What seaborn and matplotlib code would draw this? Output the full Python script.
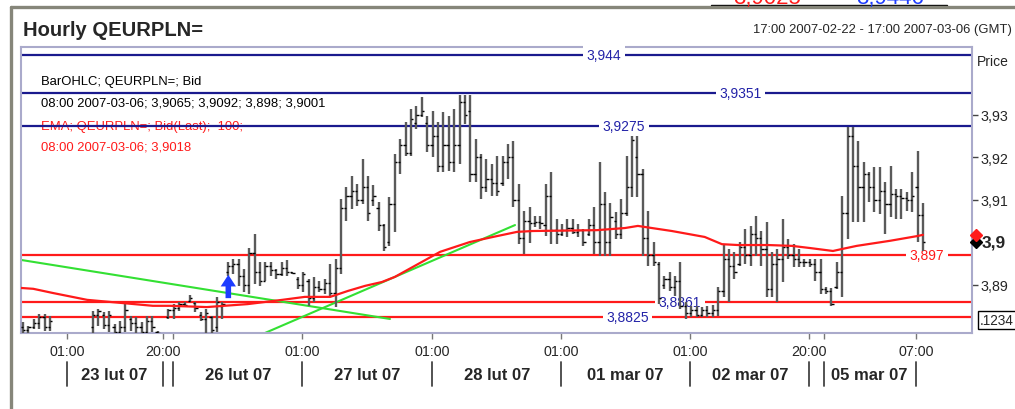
import matplotlib
matplotlib.use('Agg')
import matplotlib.pyplot as plt
from matplotlib.lines import Line2D
import pandas as pd
import seaborn as sns

sns.set_style('white')
plt.rcParams['font.family'] = ['Liberation Sans', 'DejaVu Sans']

# hourly OHLC bars, x = hour slot on the compressed time axis
bar_hour = [0, 1, 2, 3, 4, 5] + list(range(13, 26)) + list(range(27, 168))
bar_open = [
    3.8800, 3.8795, 3.8800, 3.8810, 3.8825, 3.8800,
    3.8800, 3.8830, 3.8830, 3.8805, 3.8800, 3.8790, 3.8800, 3.8820, 3.8810, 3.8800, 3.8790, 3.8815, 3.8790,
    3.8825, 3.8840, 3.8845, 3.8855, 3.8862, 3.8858, 3.8830, 3.8820, 3.8825, 3.8800, 3.8850,
    3.8930, 3.8945, 3.8950, 3.8920, 3.8900, 3.8975, 3.8930, 3.8910, 3.8945, 3.8935, 3.8925, 3.8940,
    3.8930, 3.8915, 3.8900, 3.8910, 3.8870, 3.8895, 3.8890, 3.8905, 3.8880, 3.8940,
    3.9080, 3.9110, 3.9120, 3.9100, 3.9130, 3.9100, 3.9080, 3.9040, 3.9000, 3.9090,
    3.9190, 3.9230, 3.9210, 3.9280, 3.9300, 3.9280, 3.9230, 3.9250, 3.9180, 3.9230,
    3.9190, 3.9230, 3.9330, 3.9310, 3.9160, 3.9200, 3.9130, 3.9150, 3.9140, 3.9140,
    3.9190, 3.9200, 3.9100, 3.9010, 3.9050, 3.9045, 3.9048, 3.9040, 3.9110, 3.9030,
    3.9020, 3.9030, 3.9035, 3.9025, 3.9030, 3.9020, 3.9040, 3.9000, 3.9090, 3.9000,
    3.9050, 3.9020, 3.9070, 3.9130, 3.9200, 3.9160, 3.9010, 3.8970, 3.8950, 3.8900,
    3.8915, 3.8895, 3.8910, 3.8850, 3.8835, 3.8840, 3.8830, 3.8840, 3.8835, 3.8840,
    3.8885, 3.8960, 3.8945, 3.8950, 3.8990, 3.8970, 3.9020, 3.9010, 3.8985, 3.8890,
    3.8950, 3.8960, 3.8990, 3.8970, 3.8960, 3.8955, 3.8955, 3.8950, 3.8930, 3.8890,
    3.8885, 3.8895, 3.8930, 3.9070, 3.9250, 3.9180, 3.9130, 3.9160, 3.9130, 3.9100,
    3.9120, 3.9090, 3.9115, 3.9110, 3.9105, 3.9100, 3.9130, 3.9065]
bar_high = [
    3.8813, 3.8804, 3.8820, 3.8832, 3.8832, 3.8827,
    3.8839, 3.8844, 3.8836, 3.8839, 3.8808, 3.8815, 3.8855, 3.8827, 3.8825, 3.8813, 3.8827, 3.8827, 3.8792,
    3.8844, 3.8855, 3.8860, 3.8860, 3.8876, 3.8860, 3.8836, 3.8844, 3.8827, 3.8872, 3.8860,
    3.8954, 3.8961, 3.8961, 3.8938, 3.8987, 3.9020, 3.8954, 3.8954, 3.8954, 3.8938, 3.8954, 3.8959,
    3.8931, 3.8919, 3.8931, 3.8914, 3.8919, 3.8909, 3.8914, 3.8949, 3.8961, 3.9102,
    3.9131, 3.9156, 3.9138, 3.9196, 3.9156, 3.9135, 3.9095, 3.9044, 3.9107, 3.9208,
    3.9244, 3.9284, 3.9314, 3.9321, 3.9342, 3.9298, 3.9309, 3.9284, 3.9307, 3.9298,
    3.9314, 3.9347, 3.9347, 3.9347, 3.9244, 3.9208, 3.9196, 3.9185, 3.9204, 3.9204,
    3.9232, 3.9239, 3.9138, 3.9074, 3.9084, 3.9062, 3.9062, 3.9138, 3.9166, 3.9055,
    3.9044, 3.9055, 3.9055, 3.9044, 3.9032, 3.9055, 3.9084, 3.9189, 3.9119, 3.9093,
    3.9072, 3.9102, 3.9204, 3.9251, 3.9251, 3.9173, 3.9074, 3.9001, 3.8954, 3.8921,
    3.8931, 3.8921, 3.8954, 3.8860, 3.8851, 3.8851, 3.8848, 3.8851, 3.8853, 3.8895,
    3.8996, 3.8985, 3.8978, 3.9001, 3.9032, 3.9039, 3.9062, 3.9027, 3.9048, 3.8978,
    3.8985, 3.9055, 3.9008, 3.8996, 3.8985, 3.8961, 3.8961, 3.8961, 3.8961, 3.8895,
    3.8893, 3.8954, 3.9109, 3.9272, 3.9272, 3.9239, 3.9189, 3.9166, 3.9178, 3.9178,
    3.9142, 3.9180, 3.9126, 3.9126, 3.9119, 3.9166, 3.9215, 3.9092]
bar_low = [
    3.8780, 3.8780, 3.8797, 3.8797, 3.8792, 3.8792,
    3.8780, 3.8804, 3.8797, 3.8790, 3.8780, 3.8780, 3.8790, 3.8792, 3.8780, 3.8780, 3.8780, 3.8790, 3.8780,
    3.8820, 3.8820, 3.8839, 3.8848, 3.8860, 3.8836, 3.8815, 3.8780, 3.8780, 3.8790, 3.8820,
    3.8921, 3.8926, 3.8898, 3.8884, 3.8879, 3.8902, 3.8898, 3.8909, 3.8921, 3.8914, 3.8921, 3.8921,
    3.8926, 3.8891, 3.8884, 3.8851, 3.8860, 3.8884, 3.8879, 3.8872, 3.8848, 3.8926,
    3.9051, 3.9079, 3.9086, 3.9091, 3.9051, 3.9086, 3.9027, 3.8980, 3.8992, 3.9025,
    3.9161, 3.9204, 3.9204, 3.9267, 3.9295, 3.9213, 3.9201, 3.9166, 3.9166, 3.9168,
    3.9166, 3.9185, 3.9279, 3.9142, 3.9142, 3.9102, 3.9119, 3.9109, 3.9109, 3.9133,
    3.9149, 3.9084, 3.8996, 3.8973, 3.8999, 3.9036, 3.9032, 3.9015, 3.8996, 3.8996,
    3.9015, 3.9013, 3.9020, 3.9013, 3.8992, 3.9015, 3.8973, 3.8968, 3.8968, 3.8968,
    3.9008, 3.9008, 3.9062, 3.9107, 3.9107, 3.8968, 3.8945, 3.8945, 3.8855, 3.8891,
    3.8886, 3.8874, 3.8844, 3.8820, 3.8825, 3.8825, 3.8825, 3.8825, 3.8825, 3.8827,
    3.8872, 3.8860, 3.8914, 3.8945, 3.8949, 3.8945, 3.8968, 3.8945, 3.8872, 3.8872,
    3.8860, 3.8907, 3.8961, 3.8942, 3.8942, 3.8942, 3.8942, 3.8909, 3.8879, 3.8879,
    3.8851, 3.8891, 3.8872, 3.9008, 3.9048, 3.9048, 3.9048, 3.9095, 3.9072, 3.9067,
    3.9020, 3.9060, 3.9055, 3.9055, 3.9074, 3.9072, 3.9001, 3.8980]
bar_close = [
    3.8795, 3.8800, 3.8810, 3.8825, 3.8800, 3.8815,
    3.8830, 3.8838, 3.8805, 3.8830, 3.8790, 3.8800, 3.8840, 3.8810, 3.8800, 3.8790, 3.8815, 3.8800, 3.8788,
    3.8840, 3.8845, 3.8855, 3.8852, 3.8870, 3.8845, 3.8820, 3.8835, 3.8795, 3.8860, 3.8855,
    3.8945, 3.8950, 3.8920, 3.8900, 3.8975, 3.8930, 3.8910, 3.8945, 3.8935, 3.8925, 3.8940, 3.8930,
    3.8928, 3.8900, 3.8925, 3.8870, 3.8895, 3.8890, 3.8905, 3.8880, 3.8940, 3.9080,
    3.9110, 3.9120, 3.9100, 3.9130, 3.9070, 3.9110, 3.9040, 3.8990, 3.9090, 3.9190,
    3.9230, 3.9210, 3.9290, 3.9300, 3.9310, 3.9230, 3.9250, 3.9180, 3.9230, 3.9190,
    3.9230, 3.9330, 3.9300, 3.9160, 3.9200, 3.9130, 3.9150, 3.9140, 3.9120, 3.9190,
    3.9200, 3.9100, 3.9010, 3.9050, 3.9045, 3.9048, 3.9045, 3.9110, 3.9030, 3.9020,
    3.9030, 3.9035, 3.9025, 3.9030, 3.9000, 3.9040, 3.9000, 3.9090, 3.9000, 3.9060,
    3.9020, 3.9070, 3.9130, 3.9240, 3.9160, 3.9010, 3.8970, 3.8955, 3.8870, 3.8915,
    3.8895, 3.8910, 3.8850, 3.8835, 3.8840, 3.8830, 3.8840, 3.8835, 3.8840, 3.8885,
    3.8960, 3.8945, 3.8930, 3.8990, 3.8970, 3.9020, 3.9010, 3.8985, 3.8890, 3.8950,
    3.8960, 3.8990, 3.8970, 3.8960, 3.8955, 3.8955, 3.8950, 3.8930, 3.8890, 3.8885,
    3.8855, 3.8930, 3.9070, 3.9250, 3.9180, 3.9130, 3.9160, 3.9130, 3.9100, 3.9120,
    3.9090, 3.9115, 3.9110, 3.9105, 3.9100, 3.9110, 3.9065, 3.9001]

# EMA(100)
ema_hour = [-0.4, 1.9, 5.6, 11.9, 18.0, 24.1, 27.3, 34.1, 41.7, 48.1, 52.3, 57.0, 60.3,
            63.5, 66.6, 69.0, 72.7, 77.4, 82.9, 87.2, 91.7, 94.6, 106.5, 111.7, 114.1,
            116.7, 120.4, 126.5, 129.7, 132.7, 138.2, 142.7, 146.0, 150.3, 152.1, 154.7,
            160.9, 165.9, 167.0]
ema_value = [3.8893, 3.8891, 3.8881, 3.8865, 3.8858, 3.8851, 3.8851, 3.8848, 3.8855,
             3.8865, 3.8872, 3.8872, 3.8886, 3.8898, 3.8907, 3.8919, 3.8945, 3.8978,
             3.9001, 3.9013, 3.9025, 3.9027, 3.9029, 3.9034, 3.9039, 3.9034, 3.9027,
             3.9013, 3.8996, 3.8994, 3.8994, 3.8992, 3.8987, 3.8980, 3.8985, 3.8992,
             3.9004, 3.9015, 3.9018]

# green trend lines
trend1_hour = [-0.4, 68.1]
trend1_value = [3.8959, 3.8820]
trend2_hour = [44.9, 91.3]
trend2_value = [3.8787, 3.9041]

# horizontal levels
level_value = [3.944, 3.9351, 3.9275, 3.897, 3.8861, 3.8825]
level_text = ['3,944', '3,9351', '3,9275', '3,897', '3,8861', '3,8825']
level_label_hour = [107.8, 133.2, 111.5, 167.7, 121.9, 112.2]
level_kind = ['blue', 'blue', 'blue', 'red', 'red', 'red']

# time axis
tick_hour = [8.16, 25.97, 27.83, 51.76, 75.88, 99.81, 123.75, 145.83, 148.6, 165.68]
tick_text = ['01:00', '20:00', '', '01:00', '01:00', '01:00', '01:00', '20:00', '', '07:00']
day_hour = [16.9, 39.9, 63.8, 87.9, 111.7, 134.9, 157.0]
day_text = ['23 lut 07', '26 lut 07', '27 lut 07', '28 lut 07', '01 mar 07', '02 mar 07', '05 mar 07']

price_ticks = [3.89, 3.90, 3.91, 3.92, 3.93]
price_text = ['3,89', '', '3,91', '3,92', '3,93']

bars = pd.DataFrame({'hour': bar_hour, 'open': bar_open, 'high': bar_high,
                     'low': bar_low, 'close': bar_close})
ema = pd.DataFrame({'hour': ema_hour, 'ema': ema_value})

W, H = 1015, 410
fig = plt.figure(figsize=(W / 100, H / 100), dpi=100)
ax = fig.add_axes([21 / W, 1 - 334 / H, (972 - 21) / W, (334 - 48) / H])
ax.set_xlim(-0.37, 176.1)
ax.set_ylim(3.8787, 3.9460)

NAVY = '#1a1a8e'
RED = '#ff1a1a'
GREEN = '#33e033'

# levels
for v, t, hx, k in zip(level_value, level_text, level_label_hour, level_kind):
    lc = NAVY if k == 'blue' else RED
    tc = RED if t == '3,897' else '#2323a8'
    ax.axhline(v, color=lc, lw=1.6, zorder=2)
    ax.text(hx, v, t, ha='center', va='center', color=tc, fontsize=10, zorder=3,
            bbox=dict(facecolor='white', edgecolor='none', pad=2.5))

# trend lines
sns.lineplot(x=trend1_hour, y=trend1_value, ax=ax, color=GREEN, lw=1.5, zorder=2)
sns.lineplot(x=trend2_hour, y=trend2_value, ax=ax, color=GREEN, lw=1.5, zorder=2)

# OHLC bars
ax.vlines(bars['hour'], bars['low'], bars['high'], color='#5a5a5a', lw=1.7, zorder=4)
ax.hlines(bars['open'], bars['hour'] - 0.42, bars['hour'], color='black', lw=1.0, zorder=4)
ax.hlines(bars['close'], bars['hour'], bars['hour'] + 0.42, color='black', lw=1.0, zorder=4)

# EMA
sns.lineplot(data=ema, x='hour', y='ema', ax=ax, color=RED, lw=1.6, sort=False,
             estimator=None, zorder=5)

# up arrow
ax.annotate('', xy=(38.1, 3.8924), xytext=(38.1, 3.8869),
            arrowprops=dict(arrowstyle='simple,head_length=0.42,head_width=0.55,tail_width=0.2',
                            mutation_scale=20, color='#1d3cff', lw=0, shrinkA=0, shrinkB=0),
            zorder=6)

# legend text (under the level lines)
leg = [('BarOHLC; QEURPLN=; Bid', 'black', 82),
       ('08:00 2007-03-06; 3,9065; 3,9092; 3,898; 3,9001', 'black', 104),
       ('EMA; QEURPLN=; Bid(Last);  100;', RED, 127),
       ('08:00 2007-03-06; 3,9018', RED, 148)]
for txt, c, py in leg:
    ax.text((41 - 21) / 951, (334 - py) / 286, txt, transform=ax.transAxes, color=c,
            fontsize=9.4, ha='left', va='center', zorder=1)

# frame
for s in ax.spines.values():
    s.set_color('#aaaacb')
    s.set_linewidth(1.5)

# axes ticks
ax.yaxis.tick_right()
ax.set_yticks(price_ticks)
ax.set_yticklabels(price_text, fontsize=10.3)
ax.tick_params(axis='y', right=True, length=4, width=1, color='#444444', pad=2)
ax.set_xticks(tick_hour)
ax.set_xticklabels(tick_text, fontsize=10.3)
ax.tick_params(axis='x', bottom=True, length=4, width=1, color='#777777', pad=4)
ax.set_xlabel('')
ax.set_ylabel('')
ax.grid(False)

xt = ax.get_xaxis_transform()
for th in tick_hour:
    ax.plot([th, th], [-0.1014, -0.1853], transform=xt, color='#444444', lw=1.3,
            clip_on=False)
for dh, dt in zip(day_hour, day_text):
    ax.text(dh, -0.1434, dt, transform=xt, ha='center', va='center', fontsize=12,
            fontweight='bold')

# last value markers
yt = ax.get_yaxis_transform()
ax.plot([1.0047], [ema_value[-1]], transform=yt, marker='D', ms=6, color=RED,
        clip_on=False, zorder=7)
ax.plot([1.0042], [bar_close[-1]], transform=yt, marker='D', ms=6, color='black',
        clip_on=False, zorder=6)
ax.text(1.0105, 3.90, '3,9', transform=yt, ha='left', va='center', fontsize=12.5,
        fontweight='bold')

# figure texts
fig.text(23 / W, 1 - 30 / H, 'Hourly QEURPLN=', fontsize=14.5, fontweight='bold',
         ha='left', va='center')
fig.text(1012 / W, 1 - 30 / H, '17:00 2007-02-22 - 17:00 2007-03-06 (GMT)', fontsize=9.4,
         ha='right', va='center')
fig.text(977 / W, 1 - 62 / H, 'Price', fontsize=10, ha='left', va='center')
fig.text(980 / W, 1 - 321 / H, '.1234', fontsize=9.8, ha='left', va='center',
         bbox=dict(facecolor='white', edgecolor='black', pad=1.2, lw=1))

# quote text cut off by the top edge, as in the source panel
fig.text(767 / W, 1 - 4 / H, '3,9025', fontsize=16, color=RED, ha='center',
         va='baseline')
fig.text(890 / W, 1 - 4 / H, '3,9446', fontsize=16, color='#1d3cff', ha='center',
         va='baseline')
fig.add_artist(Line2D([711 / W, 947 / W], [1 - 5.5 / H, 1 - 5.5 / H],
                      transform=fig.transFigure, color='black', lw=1))

# outer border
fig.add_artist(Line2D([11 / W, 11 / W], [0, 1 - 8 / H], transform=fig.transFigure,
                      color='#86867a', lw=2.4))
fig.add_artist(Line2D([11 / W, 1], [1 - 8 / H, 1 - 8 / H], transform=fig.transFigure,
                      color='#86867a', lw=2.4))

fig.savefig('out.png', dpi=100)
